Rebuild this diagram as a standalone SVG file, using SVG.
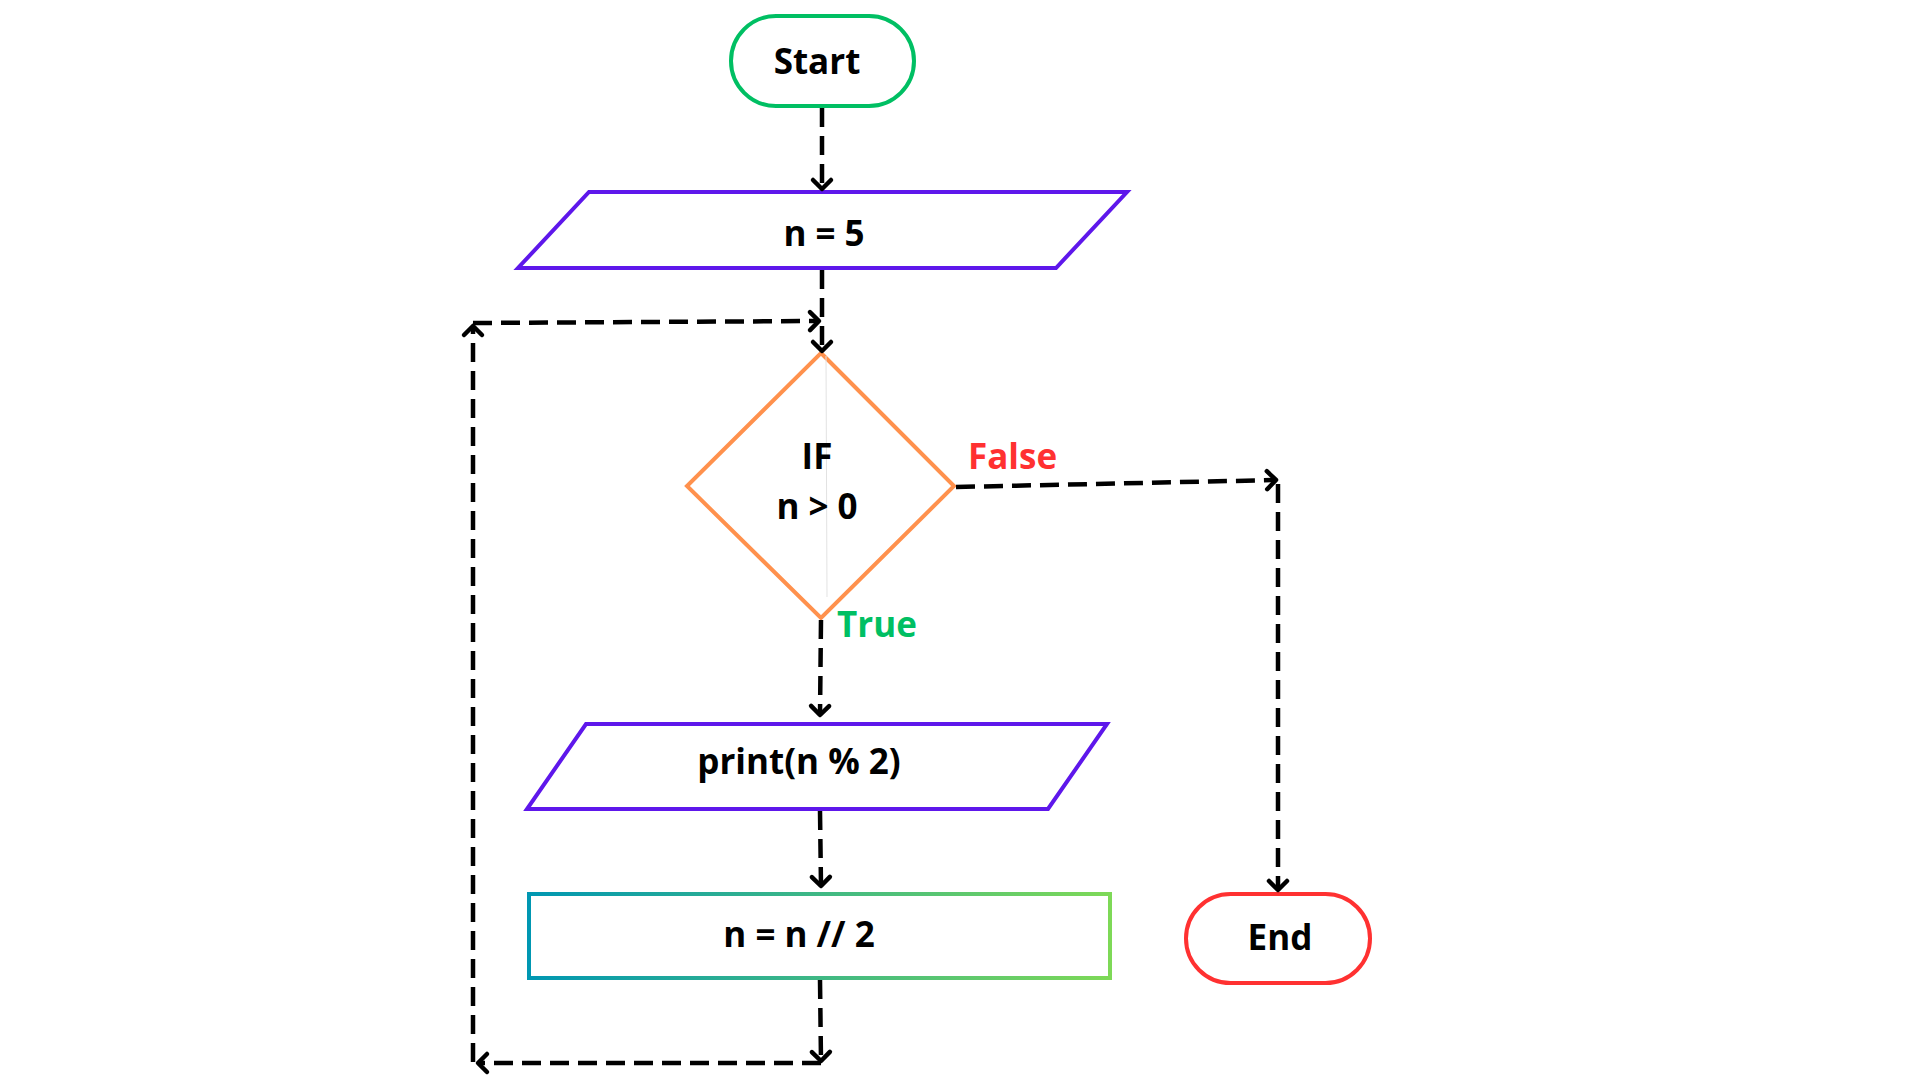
<svg xmlns="http://www.w3.org/2000/svg" width="1920" height="1080" viewBox="0 0 1920 1080">
<defs>
<linearGradient id="grad" x1="0" y1="0" x2="1" y2="0">
<stop offset="0" stop-color="#0097B2"/>
<stop offset="1" stop-color="#7ED957"/>
</linearGradient>
<marker id="arr" markerUnits="userSpaceOnUse" markerWidth="24" markerHeight="24" refX="12" refY="12" orient="auto" overflow="visible">
<path d="M3,3 L12,12 L3,21" fill="none" stroke="#000" stroke-width="4.5" stroke-linecap="round" stroke-linejoin="round"/>
</marker>
<style>
.lbl{font-family:"Open Sans","Liberation Sans",sans-serif;font-weight:700;font-size:35px;fill:#000;text-anchor:middle}
.shape{fill:#fff;stroke-width:4}
.conn{fill:none;stroke:#000;stroke-width:4.5;stroke-dasharray:19 9;marker-end:url(#arr)}
</style>
</defs>
<rect width="1920" height="1080" fill="#fff"/>

<g id="start">
<rect class="shape" x="731" y="16" width="183" height="90" rx="45" stroke="#00BF63"/>
<text class="lbl" x="817" y="74">Start</text>
</g>

<g id="n5">
<polygon class="shape" points="589,192 1127,192 1056,268 518,268" stroke="#5E17EB"/>
<text class="lbl" x="824" y="246">n = 5</text>
</g>

<g id="decision">
<polygon class="shape" points="821,353 954,486 821,618 687,486" stroke="#FF914D" stroke-linejoin="miter"/>
<line x1="826" y1="356" x2="827" y2="597" stroke="#e2e2e2" stroke-width="1"/>
<text class="lbl" x="817" y="469">IF</text>
<text class="lbl" x="817" y="519">n &gt; 0</text>
</g>

<g id="print">
<polygon class="shape" points="586,724 1107,724 1048,809 527,809" stroke="#5E17EB"/>
<text class="lbl" x="799" y="774">print(n % 2)</text>
</g>

<g id="assign">
<rect x="529" y="894" width="581" height="84" fill="#fff" stroke="url(#grad)" stroke-width="4"/>
<text class="lbl" x="799" y="947">n = n // 2</text>
</g>

<g id="end">
<rect class="shape" x="1186" y="894" width="184" height="89" rx="44.5" stroke="#FF3131"/>
<text class="lbl" x="1280" y="950">End</text>
</g>

<g id="connectors">
<path class="conn" d="M822,108 L822,189"/>
<path class="conn" d="M822,270 L822,351"/>
<path class="conn" d="M821,620 L820,715"/>
<path class="conn" d="M820,811 L821,886"/>
<path class="conn" d="M820,980 L821,1061"/>
<path class="conn" d="M821,1063 L478,1063"/>
<path class="conn" d="M473,1062 L473,326"/>
<path class="conn" d="M473,323 L819,321"/>
<path class="conn" d="M956,487 L1276,480"/>
<path class="conn" d="M1278,484 L1278,890"/>
<g id="edge-labels" font-family="Open Sans, Liberation Sans, sans-serif" font-weight="700" font-size="35">
<text x="968" y="469" fill="#FF3131">False</text>
<text x="837" y="637" fill="#00BF63">True</text>
</g>
</g>
</svg>
